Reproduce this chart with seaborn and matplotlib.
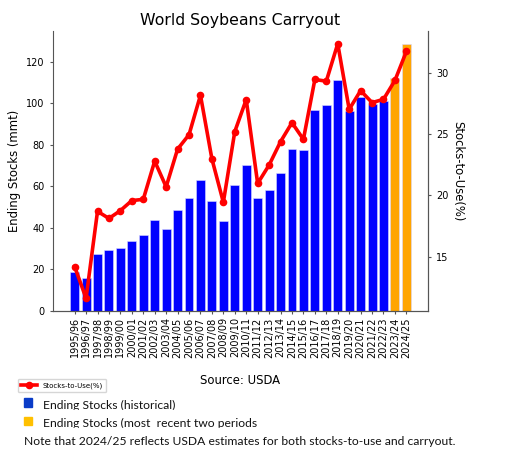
import numpy as np
import matplotlib
matplotlib.use('Agg')
import matplotlib.pyplot as plt
from matplotlib.lines import Line2D
from matplotlib.patches import Rectangle
import seaborn as sns

# data
years = ['1995/96', '1996/97', '1997/98', '1998/99', '1999/00', '2000/01', '2001/02',
         '2002/03', '2003/04', '2004/05', '2005/06', '2006/07', '2007/08', '2008/09',
         '2009/10', '2010/11', '2011/12', '2012/13', '2013/14', '2014/15', '2015/16',
         '2016/17', '2017/18', '2018/19', '2019/20', '2020/21', '2021/22', '2022/23',
         '2023/24', '2024/25']
ending_stocks = [18.9, 16.1, 27.3, 29.2, 30.4, 33.9, 36.5, 43.9, 39.4, 48.8,
                 54.3, 63.3, 52.8, 43.4, 60.6, 70.4, 54.6, 58.3, 66.7, 78.1,
                 77.6, 96.9, 99.3, 111.1, 96.5, 103.3, 99.8, 101.4, 112.1, 128.5]
stocks_to_use = [14.18, 11.59, 18.69, 18.11, 18.75, 19.57, 19.67, 22.79, 20.69, 23.77,
                 24.95, 28.17, 22.98, 19.43, 25.20, 27.82, 20.97, 22.47, 24.38, 25.93,
                 24.57, 29.46, 29.32, 32.38, 27.02, 28.55, 27.57, 27.84, 29.38, 31.75]
period = ['historical'] * 28 + ['recent'] * 2

bar_colors = {'historical': 'blue', 'recent': 'orange'}
W, H = 527, 459

fig = plt.figure(figsize=(W / 100, H / 100), dpi=100)
ax = fig.add_axes([53 / W, 1 - 311 / H, 375 / W, 280 / H])

sns.barplot(x=years, y=ending_stocks, hue=period, palette=bar_colors, dodge=False,
            saturation=1, width=0.78, edgecolor='#d8d8ff', linewidth=0.4,
            legend=False, ax=ax)
n = len(years)
span = (n - 1) + 0.8
ax.set_xlim(-0.4 - 0.05 * span, n - 1 + 0.4 + 0.05 * span)
ax.set_ylim(0, max(ending_stocks) * 1.05)

ax2 = ax.twinx()
sns.lineplot(x=np.arange(n), y=stocks_to_use, color='red', marker='o', markersize=5.5,
             markeredgewidth=0, linewidth=2.6, ax=ax2)
rng = max(stocks_to_use) - min(stocks_to_use)
ax2.set_ylim(min(stocks_to_use) - 0.05 * rng, max(stocks_to_use) + 0.05 * rng)
ax2.set_yticks([15, 20, 25, 30])

ax.set_xticks(range(n))
ax.set_xticklabels(years, rotation=90, fontsize=7)
ax.set_yticks(range(0, 121, 20))
ax.tick_params(axis='y', labelsize=7, length=2.5, color='#555555')
ax.tick_params(axis='x', length=2.5, color='#555555', pad=2)
ax2.tick_params(axis='y', labelsize=7, length=2.5, color='#555555')

for a in (ax, ax2):
    a.spines['top'].set_visible(False)
    for s in a.spines.values():
        s.set_color('#555555')
        s.set_linewidth(0.8)
ax2.spines['left'].set_visible(False)

ax.set_title('World Soybeans Carryout', fontsize=11.3, pad=4)
ax.set_ylabel('Ending Stocks (mmt)', fontsize=8.4, labelpad=4)
ax2.set_ylabel('Stocks-to-Use(%)', fontsize=8.4, rotation=270, labelpad=11)
ax.set_xlabel('Source: USDA', fontsize=8.4, labelpad=12)

handle = Line2D([], [], color='red', marker='o', markersize=5.5, markeredgewidth=0,
                linewidth=2.6, label='Stocks-to-Use(%)')
fig.legend(handles=[handle], loc='lower left', bbox_to_anchor=(18 / W, 1 - 392 / H),
           fontsize=5, frameon=True, borderaxespad=0, handlelength=2.2,
           borderpad=0.5, fancybox=True, framealpha=0.8)

# pasted key below the chart
fig.patches.append(Rectangle((24 / W, 1 - 407 / H), 8 / W, 9 / H, color='#0a3cc8',
                             transform=fig.transFigure, figure=fig))
fig.patches.append(Rectangle((24 / W, 1 - 425 / H), 8 / W, 8.5 / H, color='#ffc000',
                             transform=fig.transFigure, figure=fig))
key_font = 'Lato'
key_size = 8.7
fig.text(43 / W, 1 - 409 / H, 'Ending Stocks (historical)', fontsize=key_size,
         family=key_font, va='baseline', color='#111111')
fig.text(43 / W, 1 - 427 / H, 'Ending Stocks (most  recent two periods', fontsize=key_size,
         family=key_font, va='baseline', color='#111111')
fig.text(24 / W, 1 - 445 / H,
         'Note that 2024/25 reflects USDA estimates for both stocks-to-use and carryout.',
         fontsize=key_size, family=key_font, va='baseline', color='#111111')
# the key was cropped at the bottom of each line in the original
for y0, y1 in [(410, 415.5), (428, 433)]:
    fig.patches.append(Rectangle((40 / W, 1 - y1 / H), 300 / W, (y1 - y0) / H,
                                 color='white', zorder=10,
                                 transform=fig.transFigure, figure=fig))

fig.savefig('out.png', dpi=100)
